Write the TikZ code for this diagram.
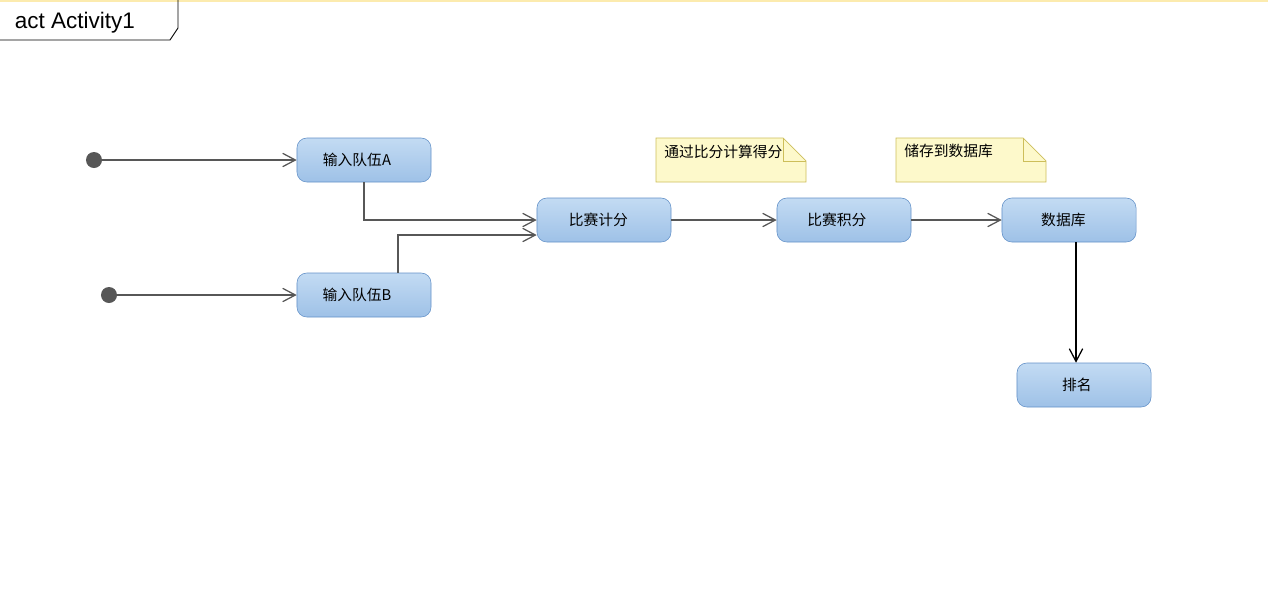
\documentclass[tikz,border=0pt]{standalone}
\usepackage{fontspec}
\usepackage{tikz}
\usetikzlibrary{arrows.meta,calc}
\setmainfont{Liberation Sans}
\newfontfamily\cjk{Noto Sans CJK SC}
\definecolor{ActTop}{HTML}{C3DBF3}
\definecolor{ActBottom}{HTML}{9EC1E7}
\definecolor{ActBorder}{HTML}{6391C8}
\definecolor{NoteFill}{HTML}{FDF9CB}
\definecolor{NoteBorder}{HTML}{CDBE5A}
\definecolor{FlowGray}{HTML}{575757}
\definecolor{FrameGold}{HTML}{FCEBAE}

\tikzset{
  action/.style={rectangle, rounded corners=7pt, draw=ActBorder, top color=ActTop,
    bottom color=ActBottom, minimum width=3.35cm, minimum height=1.1cm,
    font=\cjk\fontsize{10.5}{12}\selectfont, inner sep=0pt},
  start/.style={circle, fill=FlowGray, minimum size=0.4cm, inner sep=0pt},
  flow/.style={draw=FlowGray, line width=0.8pt, -{Straight Barb[length=9pt, width=9.5pt, line width=0.9pt]}},
  notebox/.style={draw=NoteBorder, fill=NoteFill, line width=0.5pt},
  notetext/.style={font=\cjk\fontsize{10.5}{12}\selectfont, inner sep=0pt, anchor=west}
}

\begin{document}
\begin{tikzpicture}[x=0.025cm, y=-0.025cm]
  \useasboundingbox (0,0) rectangle (1268,588);

  % Frame line and diagram tab
  \draw[FrameGold, line width=1.2pt] (0,1) -- (1268,1);
  \draw[line width=0.6pt] (0,40) -- (170,40) -- (178,28) -- (178,0);
  \node[font=\fontsize{16}{18}\selectfont] (title) at (75,23) {act Activity1};

  % Notes with folded corner
  \draw[notebox] (656,138) -- (783,138) -- (806,161) -- (806,182) -- (656,182) -- cycle;
  \draw[notebox, fill=none] (783,138) -- (783,161) -- (806,161);
  \node[notetext] (note1) at (664,152) {通过比分计算得分};
  \draw[notebox] (896,138) -- (1023,138) -- (1046,161) -- (1046,182) -- (896,182) -- cycle;
  \draw[notebox, fill=none] (1023,138) -- (1023,161) -- (1046,161);
  \node[notetext] (note2) at (904,151) {储存到数据库};

  % Initial nodes
  \node[start] (init1) at (94,160) {};
  \node[start] (init2) at (109,295) {};

  % Actions
  \node[action] (inA) at (364,160) {\hspace*{-10pt}输入队伍A};
  \node[action] (inB) at (364,295) {\hspace*{-10pt}输入队伍B};
  \node[action] (score) at (604,220) {\hspace*{-8pt}比赛计分};
  \node[action] (total) at (844,220) {\hspace*{-10pt}比赛积分};
  \node[action] (db) at (1069,220) {\hspace*{-8pt}数据库};
  \node[action] (rank) at (1084,385) {\hspace*{-10pt}排名};

  % Control flows
  \draw[flow] (init1) -- (inA);
  \draw[flow] (init2) -- (inB);
  \draw[flow] (inA.south) |- (score.west);
  \coordinate (outB) at ($(inB.north)+(34,0)$);
  \coordinate (inScore) at ($(score.west)+(0,15)$);
  \draw[flow] (outB) |- (inScore);
  \draw[flow] (score) -- (total);
  \draw[flow] (total) -- (db);
  \coordinate (dbout) at ($(db.south)+(7,0)$);
  \draw[flow, draw=black] (dbout) -- (dbout |- rank.north);
\end{tikzpicture}
\end{document}
